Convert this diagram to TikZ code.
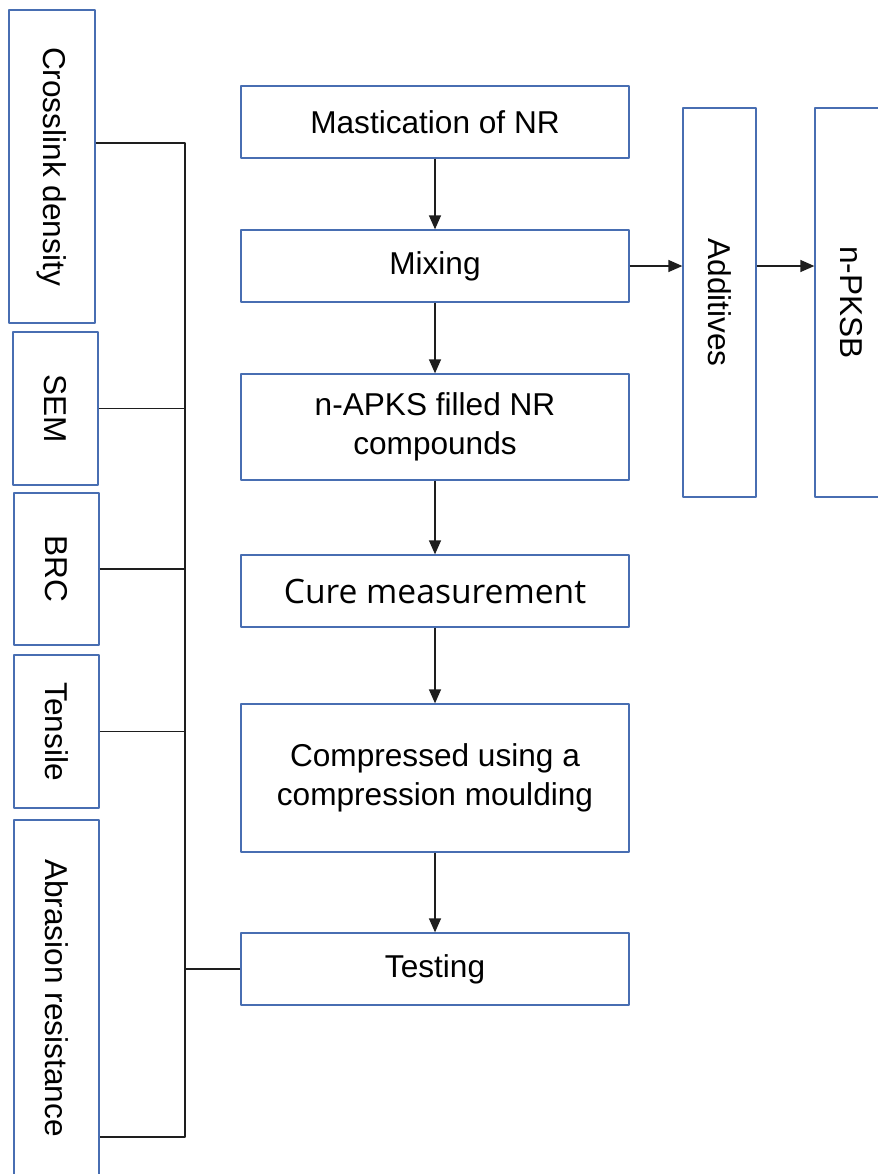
\documentclass[tikz,border=0pt]{standalone}
\usepackage{fontspec}
\setmainfont{Liberation Sans}
\newfontfamily\curefont{Open Sans}
\usepackage{graphicx}
\usetikzlibrary{arrows.meta}
\definecolor{boxblue}{RGB}{72,110,178}
\definecolor{linegray}{RGB}{30,30,30}
\begin{document}
\begin{tikzpicture}[x=0.5pt,y=-0.5pt, line join=round,
	>={Triangle[length=7pt,width=6pt]},
	box/.style={draw=boxblue,line width=0.65pt,inner sep=0pt,align=center,
		font=\fontsize{15.8}{19.5}\selectfont},
	link/.style={draw=linegray,line width=0.7pt}]
	\useasboundingbox (0,0) rectangle (878,1174);
	% main column
	\node[box,minimum width=194pt,minimum height=36pt] (mastication) at (435,122) {Mastication of NR};
	\node[box,minimum width=194pt,minimum height=36pt] (mixing) at (435,266) {Mixing};
	\node[box,minimum width=194pt,minimum height=53pt] (compounds) at (435,427) {n-APKS filled NR\\compounds};
	\node[box,minimum width=194pt,minimum height=36pt,font=\curefont\fontsize{16.8}{20}\selectfont] (cure) at (435,591) {Cure measurement};
	\node[box,minimum width=194pt,minimum height=74pt] (compressed) at (435,778) {Compressed using a\\compression moulding};
	\node[box,minimum width=194pt,minimum height=36pt] (testing) at (435,969) {Testing};
	% right side
	\node[box,minimum width=36.5pt,minimum height=194.5pt] (additives) at (719.5,302.5) {\rotatebox{-90}{Additives}};
	\node[box,minimum width=36.5pt,minimum height=194.5pt] (pksb) at (851.5,302.5) {\rotatebox{-90}{n-PKSB}};
	% left side
	\node[box,minimum width=43pt,minimum height=156.5pt] (crosslink) at (52,166.5) {\rotatebox{-90}{Crosslink density}};
	\node[box,minimum width=42.5pt,minimum height=76.5pt] (sem) at (55.5,408.5) {\rotatebox{-90}{SEM}};
	\node[box,minimum width=42.5pt,minimum height=76pt] (brc) at (56.5,569) {\rotatebox{-90}{BRC}};
	\node[box,minimum width=42.5pt,minimum height=76.5pt] (tensile) at (56.5,731.5) {\rotatebox{-90}{Tensile}};
	\node[box,minimum width=42.5pt,minimum height=178pt] (abrasion) at (56.5,998) {\rotatebox{-90}{Abrasion resistance}};
	\coordinate (bustop) at (185,143);
	\coordinate (busbot) at (185,1137);
	% arrows
	\draw[link,->] (mastication) -- (mixing);
	\draw[link,->] (mixing) -- (compounds);
	\draw[link,->] (compounds) -- (cure);
	\draw[link,->] (cure) -- (compressed);
	\draw[link,->] (compressed) -- (testing);
	\draw[link,->] (mixing.east) -- (mixing.east -| additives.west);
	\draw[link,->] (additives.east |- mixing.east) -- (pksb.west |- mixing.east);
	% bus
	\draw[link] (crosslink.east |- bustop) -- (bustop) -- (busbot) -- (abrasion.east |- busbot);
	\draw[link] (sem.east) -- (sem.east -| bustop);
	\draw[link] (brc.east) -- (brc.east -| bustop);
	\draw[link] (tensile.east) -- (tensile.east -| bustop);
	\draw[link] (testing.west) -- (testing.west -| bustop);
\end{tikzpicture}
\end{document}
